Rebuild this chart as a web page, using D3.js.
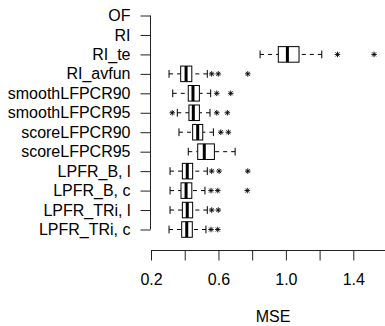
<!DOCTYPE html>
<html>
<head>
<meta charset="utf-8">
<script src="https://cdn.jsdelivr.net/npm/d3@7"></script>
<style>
  body { margin: 0; background: #fff; }
  text { font-family: "Liberation Sans", Arial, sans-serif; fill: #000; }
</style>
</head>
<body>
<script>
// boxplot stats (null = no data)
var categories = ["OF", "RI", "RI_te", "RI_avfun", "smoothLFPCR90", "smoothLFPCR95",
  "scoreLFPCR90", "scoreLFPCR95", "LPFR_B, l", "LPFR_B, c", "LPFR_TRi, l", "LPFR_TRi, c"];
var lowWhisker = [null, null, 0.847, 0.307, 0.329, 0.356, 0.366, 0.421, 0.313, 0.313, 0.313, 0.307];
var q1 = [null, null, 0.955, 0.376, 0.421, 0.425, 0.447, 0.477, 0.386, 0.378, 0.386, 0.382];
var medians = [null, null, 1.009, 0.408, 0.449, 0.451, 0.477, 0.516, 0.415, 0.408, 0.415, 0.412];
var q3 = [null, null, 1.078, 0.442, 0.487, 0.487, 0.507, 0.576, 0.447, 0.442, 0.447, 0.445];
var highWhisker = [null, null, 1.213, 0.534, 0.554, 0.550, 0.570, 0.699, 0.534, 0.520, 0.534, 0.526];
var outliers = [[], [], [1.306, 1.523], [0.560, 0.599, 0.774], [0.590, 0.673], [0.326, 0.590, 0.653],
  [0.614, 0.659], [], [0.560, 0.604, 0.774], [0.556, 0.596, 0.771], [0.560, 0.599], [0.556, 0.596]];
var xTicks = [0.2, 0.4, 0.6, 0.8, 1.0, 1.2, 1.4, 1.6];
var xLabels = [0.2, 0.6, 1.0, 1.4];

var width = 385, height = 326;

var svg = d3.select("body").append("svg").attr("width", width).attr("height", height);

var x = d3.scaleLinear().domain([0.2, 1.6]).range([151, 151 + 1.4 * 168.6]);
var y = d3.scalePoint().domain(categories).range([15.5, 229.5]);
var boxH = 0.8 * y.step(), capH = boxH / 2;

//axes
var yAxis = d3.axisLeft(y).tickSize(10).tickPadding(10);
var gy = svg.append("g").attr("transform", "translate(150.5,0)").call(yAxis);
gy.select(".domain").attr("d", "M-0,15.5V229.5").attr("stroke", "#222");
gy.selectAll(".tick line").attr("stroke", "#222");
gy.selectAll("text").style("font-size", "16px").attr("fill", "#000");

var xAxis = d3.axisBottom(x).tickValues(xTicks).tickSize(10).tickPadding(10)
  .tickFormat(function(d) { return xLabels.indexOf(d) >= 0 ? d3.format(".1f")(d) : ""; });
var gx = svg.append("g").attr("transform", "translate(0,250.5)").call(xAxis);
gx.select(".domain").attr("d", "M151,0H" + width).attr("stroke", "#222");
gx.selectAll(".tick line").attr("stroke", "#222");
gx.selectAll("text").style("font-size", "16px").attr("fill", "#000").attr("dy", "0.9em");

svg.append("text").attr("x", 273).attr("y", 322).attr("text-anchor", "middle")
  .style("font-size", "16px").text("MSE");

//boxes
var rows = categories.map(function(c, i) {
  return {cat: c, lo: lowWhisker[i], q1: q1[i], med: medians[i], q3: q3[i], hi: highWhisker[i], out: outliers[i]};
}).filter(function(d) { return d.med !== null; });

var g = svg.selectAll(".box").data(rows).enter().append("g").attr("class", "box")
  .attr("transform", function(d) { return "translate(0," + y(d.cat) + ")"; });

// whiskers drawn from the caps in towards the box
g.append("line").attr("x1", function(d) { return x(d.lo); }).attr("x2", function(d) { return x(d.q1); })
  .attr("stroke", "#000").attr("stroke-dasharray", "4,4");
g.append("line").attr("x1", function(d) { return x(d.hi); }).attr("x2", function(d) { return x(d.q3); })
  .attr("stroke", "#000").attr("stroke-dasharray", "4,4");
g.append("line").attr("x1", function(d) { return x(d.lo); }).attr("x2", function(d) { return x(d.lo); })
  .attr("y1", -capH / 2).attr("y2", capH / 2).attr("stroke", "#000");
g.append("line").attr("x1", function(d) { return x(d.hi); }).attr("x2", function(d) { return x(d.hi); })
  .attr("y1", -capH / 2).attr("y2", capH / 2).attr("stroke", "#000");

g.append("rect").attr("x", function(d) { return x(d.q1); }).attr("y", -boxH / 2)
  .attr("width", function(d) { return x(d.q3) - x(d.q1); }).attr("height", boxH)
  .attr("fill", "#fff").attr("stroke", "#000");
g.append("line").attr("x1", function(d) { return x(d.med); }).attr("x2", function(d) { return x(d.med); })
  .attr("y1", -boxH / 2).attr("y2", boxH / 2).attr("stroke", "#000").attr("stroke-width", 3);

//outliers as asterisks
var star = "M-2.8,0H2.8M0,-2.8V2.8M-2,-2L2,2M-2,2L2,-2";
g.selectAll(".out").data(function(d) { return d.out; }).enter().append("path").attr("class", "out")
  .attr("d", star).attr("transform", function(v) { return "translate(" + x(v) + ",0)"; })
  .attr("stroke", "#000").attr("stroke-width", 0.9).attr("fill", "none");
</script>
</body>
</html>
